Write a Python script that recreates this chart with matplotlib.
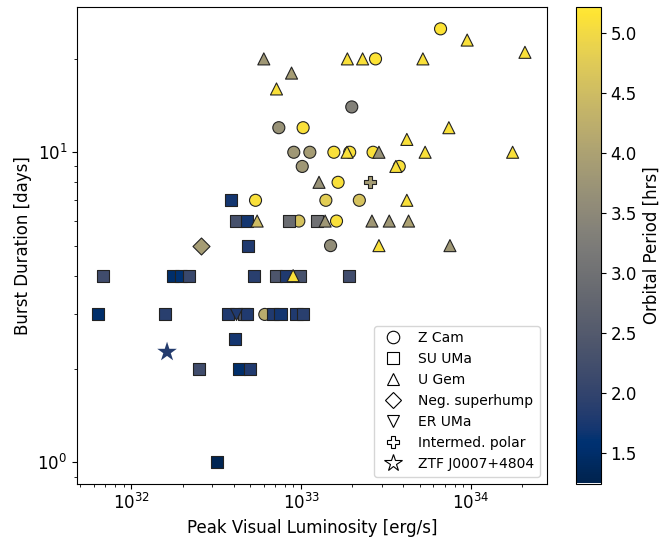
import numpy as np
import matplotlib
matplotlib.use('Agg')
from matplotlib import pyplot as plt
from matplotlib.lines import Line2D
from matplotlib.colors import Normalize

# Z Cam
zcam_lum = [6.62e33, 2.74e33, 1.985e33, 7.38e32, 1.026e33, 9.04e32, 1.124e33, 1.557e33, 1.93e33,
            2.65e33, 1.014e33, 3.78e33, 1.649e33, 5.38e32, 1.397e33, 2.2e33, 9.68e32, 1.614e33,
            1.489e33, 6.1e32]
zcam_dur = [25, 20, 14, 12, 12, 10, 10, 10, 10,
            10, 9, 9, 8, 7, 7, 7, 6, 6,
            5, 3]
zcam_per = [5.15, 5.15, 3.35, 3.7, 5.1, 3.8, 3.9, 5.1, 5.1,
            5.1, 3.8, 5.1, 5.1, 5.1, 4.8, 4.6, 4.6, 5.1,
            3.6, 4.2]

# SU UMa
suuma_lum = [3.85e32, 4.12e32, 4.81e32, 8.49e32, 1.231e33, 4.86e32, 6.8e31, 1.75e32, 1.95e32,
             2.18e32, 5.26e32, 7.08e32, 8.19e32, 9.81e32, 1.905e33, 6.35e31, 1.57e32, 3.71e32,
             4.61e32, 4.81e32, 6.82e32, 7.55e32, 9.38e32, 1.026e33, 4.06e32, 2.49e32, 4.29e32,
             5.02e32, 3.21e32]
suuma_dur = [7, 6, 6, 6, 6, 5, 4, 4, 4,
             4, 4, 4, 4, 4, 4, 3, 3, 3,
             3, 3, 3, 3, 3, 3, 2.5, 2, 2,
             2, 1]
suuma_per = [1.7, 2.3, 1.7, 2.9, 3.0, 1.8, 2.2, 1.5, 1.6,
             2.1, 1.9, 2.4, 1.8, 2.3, 2.2, 1.5, 1.9, 1.8,
             2.4, 1.8, 1.8, 1.7, 1.8, 1.9, 1.7, 2.2, 1.5,
             1.8, 1.3]

# U Gem
ugem_lum = [9.5e33, 2.08e34, 6.02e32, 1.87e33, 2.3e33, 5.21e33, 8.77e32, 7.15e32, 7.41e33,
            4.19e33, 1.862e33, 2.87e33, 5.37e33, 1.76e34, 3.61e33, 1.273e33, 4.19e33, 5.5e32,
            1.383e33, 2.61e33, 3.3e33, 4.29e33, 2.87e33, 7.52e33, 8.96e32]
ugem_dur = [23, 21, 20, 20, 20, 20, 18, 16, 12,
            11, 10, 10, 10, 10, 9, 8, 7, 6,
            6, 6, 6, 6, 5, 5, 4]
ugem_per = [5.1, 5.1, 3.8, 5.1, 5.1, 5.1, 3.9, 5.1, 5.1,
            5.1, 5.1, 3.7, 5.1, 5.1, 5.1, 3.7, 5.1, 4.5,
            3.8, 3.8, 3.8, 4.0, 5.1, 3.8, 5.1]

# Neg. superhump
nsh_lum = [2.58e32]
nsh_dur = [5]
nsh_per = [3.9]

# ER UMa
eruma_lum = [4.12e32]
eruma_dur = [3]
eruma_per = [1.8]

# Intermediate polar
ip_lum = [2.55e33]
ip_dur = [8]
ip_per = [3.9]

# ZTF J0007+4804
ztf_lum = [1.62e32]
ztf_dur = [2.27]
ztf_per = [1.85]

plt.rcParams['font.size'] = 12

fig = plt.figure(figsize=(6.65, 5.42), dpi=100)
ax = fig.add_axes([77 / 665, 1 - 483.5 / 542, 470 / 665, 476.5 / 542])
cax = fig.add_axes([576 / 665, 1 - 483.5 / 542, 24.7 / 665, 476.5 / 542])

norm = Normalize(vmin=1.25, vmax=5.22)
cmap = 'cividis'
kw = dict(cmap=cmap, norm=norm, edgecolors='#222222', linewidths=0.8, s=75)

ax.scatter(zcam_lum, zcam_dur, c=zcam_per, marker='o', **kw)
ax.scatter(suuma_lum, suuma_dur, c=suuma_per, marker='s', **kw)
ax.scatter(ugem_lum, ugem_dur, c=ugem_per, marker='^', **kw)
ax.scatter(nsh_lum, nsh_dur, c=nsh_per, marker='D', **kw)
ax.scatter(eruma_lum, eruma_dur, c=eruma_per, marker='v', **kw)
ax.scatter(ip_lum, ip_dur, c=ip_per, marker='P', **kw)
sc = ax.scatter(ztf_lum, ztf_dur, c=ztf_per, marker='*', cmap=cmap, norm=norm, s=220, edgecolors='none')

ax.set_xscale('log')
ax.set_yscale('log')
ax.set_xlim(10 ** 31.679, 10 ** 34.448)
ax.set_ylim(0.855, 29.4)
ax.set_xlabel('Peak Visual Luminosity [erg/s]')
ax.set_ylabel('Burst Duration [days]')

handles = [
    Line2D([], [], ls='', marker='o', mfc='white', mec='black', mew=0.8, ms=9, label='Z Cam'),
    Line2D([], [], ls='', marker='s', mfc='white', mec='black', mew=0.8, ms=9, label='SU UMa'),
    Line2D([], [], ls='', marker='^', mfc='white', mec='black', mew=0.8, ms=9, label='U Gem'),
    Line2D([], [], ls='', marker='D', mfc='white', mec='black', mew=0.8, ms=8, label='Neg. superhump'),
    Line2D([], [], ls='', marker='v', mfc='white', mec='black', mew=0.8, ms=9, label='ER UMa'),
    Line2D([], [], ls='', marker='P', mfc='white', mec='black', mew=0.8, ms=9, label='Intermed. polar'),
    Line2D([], [], ls='', marker='*', mfc='white', mec='black', mew=0.8, ms=13, label='ZTF J0007+4804'),
]
ax.legend(handles=handles, loc='lower right', fontsize=10)

cb = fig.colorbar(sc, cax=cax)
cb.set_ticks([1.5, 2.0, 2.5, 3.0, 3.5, 4.0, 4.5, 5.0])
cb.set_label('Orbital Period [hrs]')

plt.savefig('out.png', dpi=100)
